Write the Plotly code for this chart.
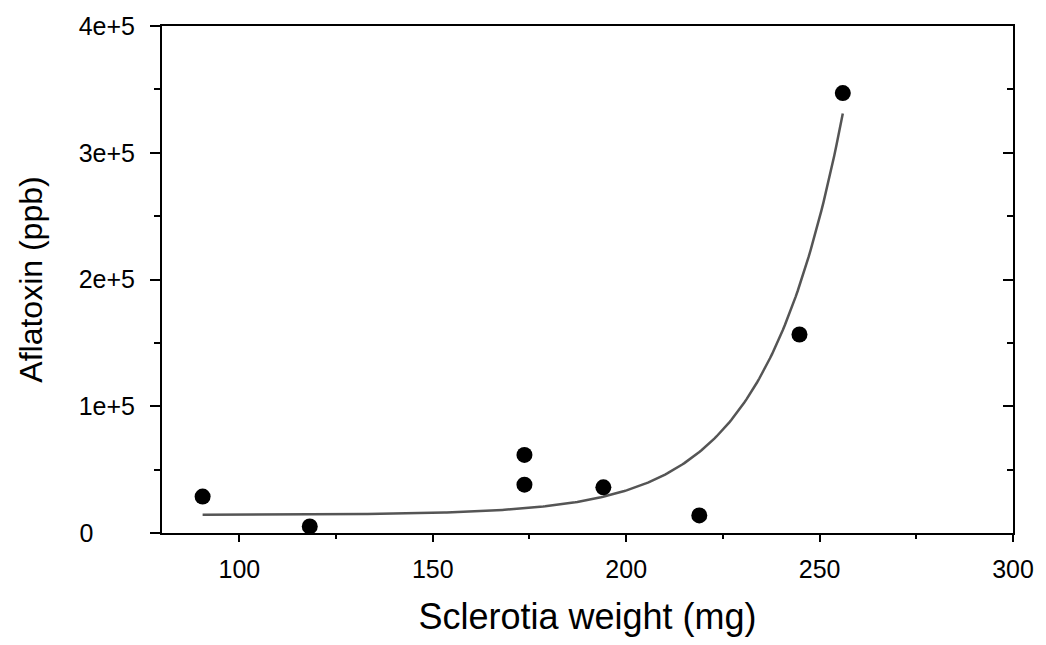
import numpy as np
import plotly.graph_objects as go

# Sclerotia weight (mg) and aflatoxin content (ppb) per isolate
sclerotia_weight = [90.5, 118.2, 173.7, 173.7, 194.1, 218.9, 244.8, 256.0]
aflatoxin_ppb = [28700, 5200, 61600, 38100, 36000, 13900, 156600, 347100]

# Exponential regression  y = y0 + a * exp(b * x)
fit_y0 = 14300.0
fit_a = 0.874
fit_b = 0.05
fit_x = np.linspace(min(sclerotia_weight), max(sclerotia_weight), 300)
fit_y = fit_y0 + fit_a * np.exp(fit_b * fit_x)

x_ticks = [100, 150, 200, 250, 300]
y_ticks = [0, 100000, 200000, 300000, 400000]
# labels are left-aligned: the short "0" is padded with no-break spaces
y_tick_text = ["0" + "\u00a0" * 6, "1e+5", "2e+5", "3e+5", "4e+5"]

font_family = "Liberation Sans, Arial, sans-serif"

fig = go.Figure()
fig.add_trace(go.Scatter(
    x=fit_x, y=fit_y, mode="lines",
    line=dict(color="#555555", width=2.5),
    showlegend=False, hoverinfo="skip",
))
fig.add_trace(go.Scatter(
    x=sclerotia_weight, y=aflatoxin_ppb, mode="markers",
    marker=dict(color="black", size=16, line=dict(width=0)),
    showlegend=False,
))
# right-hand axis carrying the inward ticks of the frame
fig.add_trace(go.Scatter(
    x=[None], y=[None], yaxis="y2", mode="markers",
    showlegend=False, hoverinfo="skip",
))

fig.update_layout(
    width=1046, height=645,
    margin=dict(l=162, r=30, t=22, b=112),
    paper_bgcolor="white", plot_bgcolor="white",
    font=dict(family=font_family, color="black"),
    xaxis=dict(
        range=[80, 300], tickvals=x_ticks, ticktext=[str(v) for v in x_ticks],
        ticks="outside", ticklen=7, tickwidth=2, tickcolor="black",
        ticklabelstandoff=6,
        showline=True, linecolor="black", linewidth=2, mirror=True,
        showgrid=False, zeroline=False,
        tickfont=dict(size=25, family=font_family),
        minor=dict(tickvals=[125, 175, 225, 275], ticks="outside", ticklen=4,
                   tickwidth=2, tickcolor="black", showgrid=False),
        title=dict(text="Sclerotia weight (mg)", font=dict(size=36, family=font_family),
                   standoff=22),
    ),
    yaxis=dict(
        range=[0, 400000], tickvals=y_ticks, ticktext=y_tick_text,
        ticks="outside", ticklen=10, tickwidth=2, tickcolor="black",
        ticklabelstandoff=10,
        showline=True, linecolor="black", linewidth=2, mirror=True,
        showgrid=False, zeroline=False,
        tickfont=dict(size=25, family=font_family),
        minor=dict(tickvals=[50000, 150000, 250000, 350000], ticks="outside",
                   ticklen=6, tickwidth=2, tickcolor="black", showgrid=False),
        title=dict(text="Aflatoxin (ppb)", font=dict(size=32, family=font_family),
                   standoff=26),
    ),
    yaxis2=dict(
        range=[0, 400000], overlaying="y", side="right",
        tickvals=y_ticks, ticks="inside", ticklen=10, tickwidth=2, tickcolor="black",
        showticklabels=False, showgrid=False, zeroline=False, showline=False,
        minor=dict(tickvals=[50000, 150000, 250000, 350000], ticks="inside",
                   ticklen=6, tickwidth=2, tickcolor="black", showgrid=False),
    ),
)

fig.write_html("out.html")
